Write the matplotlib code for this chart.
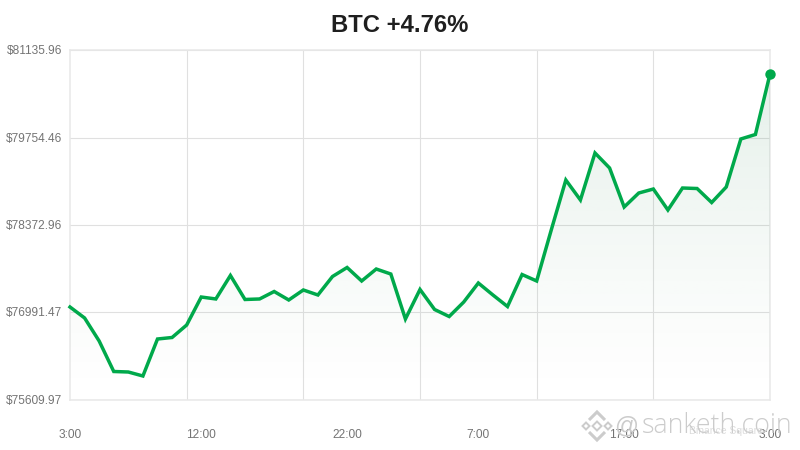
import matplotlib
import matplotlib.pyplot as plt
import numpy as np
from matplotlib.patches import Polygon
from matplotlib.transforms import ScaledTranslation

matplotlib.use('agg')

plt.rcParams['font.family'] = ['Liberation Sans', 'DejaVu Sans']

prices = [77078, 76905, 76541, 76060, 76052, 75989, 76573, 76597, 76794,
          77236, 77205, 77576, 77197, 77205, 77323, 77189, 77347, 77268,
          77560, 77702, 77489, 77678, 77599, 76889, 77355, 77039, 76928,
          77157, 77457, 77268, 77086, 77591, 77489, 78294, 79083, 78768,
          79510, 79273, 78657, 78878, 78941, 78610, 78957, 78949, 78728,
          78973, 79731, 79802, 80757]
y_ticks = [75609.97, 76991.47, 78372.96, 79754.46, 81135.96]
x_ticks = [0, 9, 19, 28, 38, 48]
x_labels = ['3:00', '12:00', '22:00', '7:00', '17:00', '3:00']
grid_x = [0, 8, 16, 24, 32, 40, 48]
title = 'BTC +4.76%'

green = '#00a94b'
grid_color = '#e0e0e0'
label_color = '#747474'

fig = plt.figure(figsize=(8, 4.5), dpi=100)
ax = fig.add_axes([70 / 800, 1 - 400 / 450, 700 / 800, 350 / 450])

x = np.arange(len(prices))

# gradient under the line
grad = np.linspace(0, 1, 256).reshape(-1, 1)
rgba = np.zeros((256, 1, 4))
rgba[..., 1] = 110 / 255
rgba[..., 2] = 50 / 255
rgba[..., 3] = 0.115 * grad ** 1.2
im = ax.imshow(rgba, extent=[0, 48, y_ticks[0], y_ticks[-1]], origin='lower',
               aspect='auto', zorder=3, interpolation='bilinear')
area = Polygon(list(zip(x, prices)) + [(48, y_ticks[0]), (0, y_ticks[0])],
               closed=True, transform=ax.transData, facecolor='none', edgecolor='none')
ax.add_patch(area)
im.set_clip_path(area)

ax.plot(x, prices, color=green, lw=2.5, zorder=4, solid_joinstyle='miter', clip_on=False)
ax.plot(x[-1], prices[-1], 'o', color=green, ms=7.5, mew=0, zorder=5, clip_on=False)

ax.set_xlim(0, 48)
ax.set_ylim(y_ticks[0], y_ticks[-1])
ax.set_xticks(x_ticks)
ax.set_xticklabels(x_labels)
ax.set_xticks(grid_x, minor=True)
ax.set_yticks(y_ticks)
ax.set_yticklabels(['$%.2f' % v for v in y_ticks])
ax.tick_params(axis='both', which='both', length=0, labelsize=8.6, labelcolor=label_color)
ax.tick_params(axis='x', pad=21)
ax.tick_params(axis='y', pad=5.8)
# nudge the y labels down one pixel
nudge = ScaledTranslation(0, -1 / 100, fig.dpi_scale_trans)
for lab in ax.get_yticklabels():
    lab.set_verticalalignment('center')
    lab.set_transform(lab.get_transform() + nudge)
ax.grid(True, axis='y', which='major', color=grid_color, lw=0.8, zorder=1)
ax.grid(True, axis='x', which='minor', color=grid_color, lw=0.8, zorder=1)
ax.set_axisbelow(True)
for s in ax.spines.values():
    s.set_color('#e8e8e8')
    s.set_linewidth(1.1)

fig.text(0.5, 1 - 25.5 / 450, title, ha='center', va='center', fontsize=17.2,
         fontweight='bold', color='#1f1f1f')

# watermark
wm = '#cccccc'
fig.text(726 / 800, 1 - 431 / 450, 'Binance Square', ha='center', va='center',
         fontsize=7.5, color='#dcdcdc')
fig.text(626 / 800, 1 - 426 / 450, '@', ha='center', va='center', fontsize=17, color=wm)
fig.text(642 / 800, 1 - 426 / 450, 'sanketh.coin', ha='left', va='center', fontsize=19.3,
         color=wm, fontfamily=['Open Sans', 'DejaVu Sans'], fontweight='light')


def to_fig(pts):
    return [(px / 800, 1 - py / 450) for px, py in pts]


# logo: two chevrons and three small diamonds
for pts in [[(589, 420), (597, 412), (605, 420)], [(589, 432), (597, 440), (605, 432)]]:
    fig.add_artist(Polygon(to_fig(pts), closed=False, transform=fig.transFigure,
                           facecolor='none', edgecolor=wm, lw=2.2))
for cx, cy, r in [(586, 426, 3.5), (608, 426, 3.5), (597, 426, 4.5)]:
    pts = [(cx, cy - r), (cx + r, cy), (cx, cy + r), (cx - r, cy)]
    fig.add_artist(Polygon(to_fig(pts), closed=True, transform=fig.transFigure,
                           facecolor='none', edgecolor=wm, lw=1.4))

fig.savefig('out.png', dpi=100)
